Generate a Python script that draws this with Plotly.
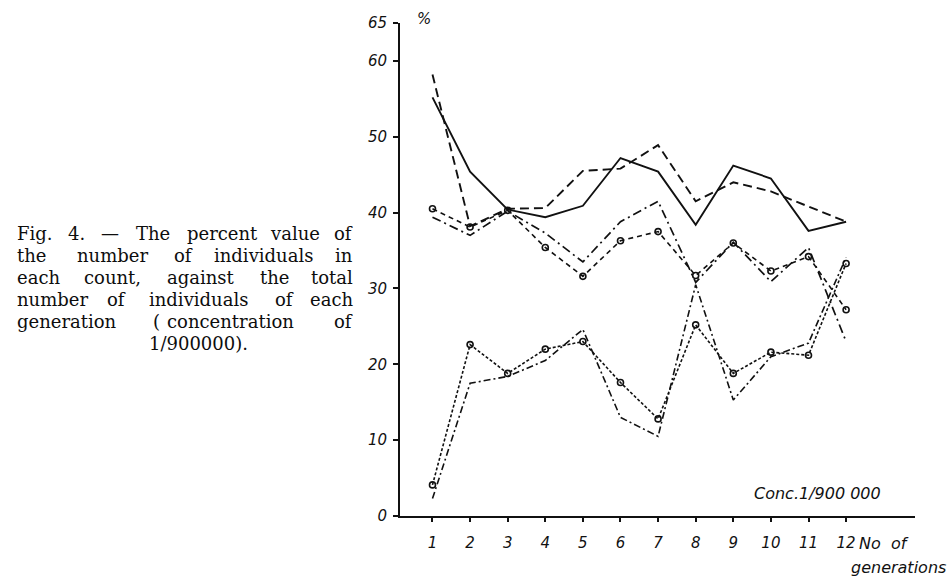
import plotly.graph_objects as go

# Percent of individuals in each count, per generation (concentration 1/900 000)
generations = list(range(1, 13))
count_solid = [55.2, 45.4, 40.4, 39.4, 40.9, 47.2, 45.4, 38.4, 46.2, 44.5, 37.6, 38.8]
count_dashed = [58.2, 38.2, 40.5, 40.6, 45.5, 45.8, 48.9, 41.5, 44.0, 42.8, 40.8, 38.8]
count_dashdot = [39.4, 37.0, 40.2, 37.3, 33.5, 38.8, 41.5, 30.8, 36.1, 30.9, 35.4, 23.0]
count_circles = [40.5, 38.1, 40.3, 35.4, 31.6, 36.3, 37.5, 31.7, 36.0, 32.3, 34.2, 27.2]
count_circles_low = [4.1, 22.6, 18.8, 22.0, 23.0, 17.6, 12.8, 25.2, 18.8, 21.6, 21.2, 33.3]
count_dashdot_low = [2.3, 17.5, 18.4, 20.5, 24.6, 13.0, 10.5, 30.5, 15.3, 21.0, 22.8, 34.1]

y_ticks = [0, 10, 20, 30, 40, 50, 60, 65]
x_ticks = generations

caption_lines = [
    ["Fig.", "4.", "\u2014", "The", "percent", "value", "of"],
    ["the", "number", "of", "individuals", "in"],
    ["each", "count,", "against", "the", "total"],
    ["number", "of", "individuals", "of", "each"],
    ["generation", "(", "concentration", "of"],
    ["1/900000)."],
]

# page geometry (pixels)
W, H = 951, 579
ML, MR, MT, MB = 400, 36, 23, 63
PW, PH = W - ML - MR, H - MT - MB


def px(x):
    return (x - ML) / PW


def py(y):
    return 1 - (y - MT) / PH


INK = "#111111"
fig = go.Figure()


def add_line(values, dash, width=1.7, marker=None):
    kw = dict(mode="lines")
    if marker:
        kw = dict(mode="lines+markers",
                  marker=dict(symbol="circle-open", size=6,
                              line=dict(width=1.6, color=INK), color=INK))
    fig.add_trace(go.Scatter(x=generations, y=values,
                             line=dict(color=INK, width=width, dash=dash),
                             showlegend=False, hoverinfo="skip", **kw))


add_line(count_solid, "solid", 1.9)
add_line(count_dashed, "9px,5px", 1.9)
add_line(count_dashdot, "9px,4px,2px,4px", 1.7)
add_line(count_circles, "5px,4px", 1.6, marker=True)
add_line(count_circles_low, "3px,2px", 1.6, marker=True)
add_line(count_dashdot_low, "7px,3px,2px,3px", 1.6)

tick_font = dict(family="DejaVu Sans", size=15, color=INK, style="italic")

fig.update_layout(
    width=W, height=H,
    margin=dict(l=ML, r=MR, t=MT, b=MB),
    paper_bgcolor="white", plot_bgcolor="white",
    xaxis=dict(range=[0.136, 1 + (W - MR - 432.5) / 37.6],
               tickvals=x_ticks, ticktext=[str(v) for v in x_ticks],
               showgrid=False, zeroline=False,
               showline=True, linecolor=INK, linewidth=2,
               ticks="outside", ticklen=4, tickwidth=1.5, tickcolor=INK,
               ticklabelstandoff=8, tickfont=tick_font),
    yaxis=dict(range=[0, 65],
               tickvals=y_ticks, ticktext=[str(v) for v in y_ticks],
               showgrid=False, zeroline=False,
               showline=True, linecolor=INK, linewidth=2,
               ticks="outside", ticklen=5, tickwidth=1.5, tickcolor=INK,
               ticklabelstandoff=3, tickfont=tick_font),
)

ann = []
label_font = dict(family="DejaVu Sans", size=16, color=INK, style="italic")
# unit and axis titles
ann.append(dict(x=px(424), y=py(19), text="%", xanchor="center", yanchor="middle",
                font=tick_font))
ann.append(dict(x=px(857), y=py(543), text="No  of", xanchor="left", yanchor="middle",
                font=label_font))
ann.append(dict(x=px(948), y=py(567), text="generations", xanchor="right", yanchor="middle",
                font=label_font))
ann.append(dict(x=px(752), y=py(493), text="Conc.1/900 000", xanchor="left",
                yanchor="middle", font=label_font))

# caption, justified word by word
word_x = [
    [15, 66, 99, 134, 185, 268, 355],
    [15, 75, 172, 212, 355],
    [15, 82, 165, 258, 355],
    [15, 105, 147, 273, 355],
    [15, 151, 165, 355],
    [147],
]
line_y = [233, 255, 277, 299, 321, 343]
cap_font = dict(family="DejaVu Serif", size=18, color="#0d0d0d")
for words, xs, yv in zip(caption_lines, word_x, line_y):
    for i, (wd, xv) in enumerate(zip(words, xs)):
        last = (i == len(words) - 1) and len(words) > 1
        ann.append(dict(x=px(xv), y=py(yv), text=wd,
                        xanchor="right" if last else "left", yanchor="middle",
                        font=cap_font))

for a in ann:
    a.update(xref="paper", yref="paper", showarrow=False)
fig.update_layout(annotations=ann)

fig.write_html("out.html")
